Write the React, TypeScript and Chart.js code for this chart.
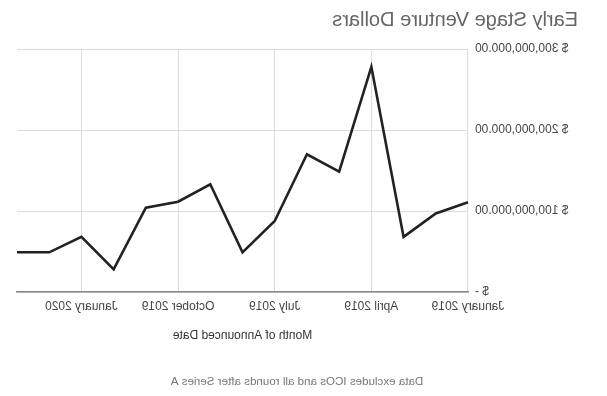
import React, { useEffect, useRef } from "react";
import { Chart, registerables } from "chart.js";

Chart.register(...registerables);

const months = [
  "January 2019", "February 2019", "March 2019", "April 2019", "May 2019", "June 2019",
  "July 2019", "August 2019", "September 2019", "October 2019", "November 2019", "December 2019",
  "January 2020", "February 2020", "March 2020",
];
const dollars = [
  110.7e6, 97e6, 68e6, 278e6, 148.5e6, 170e6, 87.6e6, 49e6, 133e6, 111.5e6, 104e6, 28e6, 68e6, 49e6, 49e6,
];
const yTicks = [0, 100e6, 200e6, 300e6];
const chartTitle = "Early Stage Venture Dollars";
const xTitle = "Month of Announced Date";
const footnote = "Data excludes ICOs and all rounds after Series A";

const FONT = "'Liberation Sans', Arial, Helvetica, sans-serif";

function fmtDollar(v: number): string {
  if (v === 0) return "$ -";
  return "$ " + v.toLocaleString("en-US", { minimumFractionDigits: 2, maximumFractionDigits: 2 });
}

const textPlugin = {
  id: "texts",
  afterDraw(chart: any) {
    const ctx = chart.ctx;
    ctx.save();
    ctx.fillStyle = "#666";
    ctx.font = `20px ${FONT}`;
    ctx.textAlign = "left";
    ctx.textBaseline = "alphabetic";
    ctx.fillText(chartTitle, 29, 26);
    ctx.fillStyle = "#777";
    ctx.font = `11.6px ${FONT}`;
    ctx.textAlign = "center";
    ctx.fillText(footnote, 310, 385);
    ctx.restore();
  },
};

export default function App() {
  const ref = useRef<HTMLCanvasElement | null>(null);
  useEffect(() => {
    if (!ref.current) return;
    const chart = new Chart(ref.current, {
      type: "line",
      data: {
        labels: months,
        datasets: [
          {
            data: dollars,
            borderColor: "#222",
            borderWidth: 2.6,
            pointRadius: 0,
            tension: 0,
            fill: false,
          },
        ],
      },
      options: {
        animation: false,
        responsive: false,
        devicePixelRatio: 1,
        layout: { padding: { left: 0, right: 17, top: 49, bottom: 53 } },
        plugins: { legend: { display: false }, title: { display: false }, tooltip: { enabled: false } },
        scales: {
          x: {
            type: "category",
            offset: false,
            grid: {
              drawTicks: false,
              color: (c: any) => (c.index % 3 === 0 ? "#dcdcdc" : "rgba(0,0,0,0)"),
              lineWidth: 1,
            },
            border: { display: true, color: "#888", width: 1.5 },
            ticks: {
              autoSkip: false,
              maxRotation: 0,
              minRotation: 0,
              padding: 7,
              color: "#444",
              font: { family: FONT, size: 12 },
              callback: function (this: any, value: any, index: number) {
                return index % 3 === 0 ? months[index] : "";
              },
            },
            title: {
              display: true,
              text: xTitle,
              color: "#333",
              font: { family: FONT, size: 12 },
              padding: { top: 15, bottom: 0 },
            },
            afterFit: (s: any) => {
              s.height = 51;
            },
          },
          y: {
            min: 0,
            max: 300e6,
            afterBuildTicks: (s: any) => {
              s.ticks = yTicks.map((v) => ({ value: v }));
            },
            grid: { drawTicks: false, color: "#dcdcdc", lineWidth: 1 },
            border: { display: false },
            ticks: {
              padding: 7,
              color: "#444",
              font: { family: FONT, size: 12 },
              callback: (v: any) => fmtDollar(Number(v)),
            },
            afterFit: (s: any) => {
              s.width = 139;
            },
          },
        },
      },
      plugins: [textPlugin],
    });
    return () => chart.destroy();
  }, []);
  return (
    <div
      style={{
        position: "fixed",
        left: 0,
        top: 0,
        width: 607,
        height: 396,
        background: "#fff",
        transform: "scaleX(-1)",
      }}
    >
      <canvas ref={ref} width={607} height={396} style={{ display: "block" }} />
    </div>
  );
}
